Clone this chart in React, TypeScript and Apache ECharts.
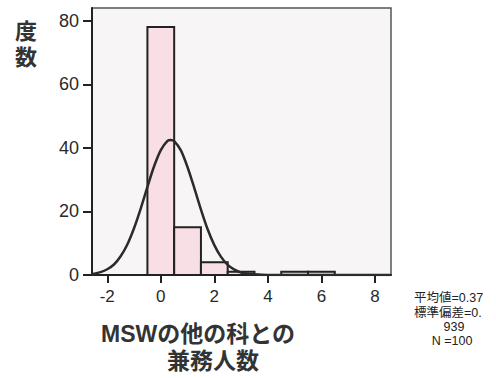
import React, { useEffect, useRef } from "react";
import * as echarts from "echarts";

const binStarts = [-0.5, 0.5, 1.5, 2.5, 3.5, 4.5, 5.5];
const binEnds = [0.5, 1.5, 2.5, 3.5, 4.5, 5.5, 6.5];
const binCounts = [78, 15, 4, 1, 0, 1, 1];

const curveX = [-2.57, -2.5, -2.25, -2, -1.75, -1.5, -1.25, -1, -0.75, -0.5, -0.25, 0, 0.25, 0.37, 0.5, 0.75, 1, 1.25, 1.5, 1.75, 2, 2.25, 2.5, 2.75, 3, 3.25, 3.5, 4, 4.5, 5, 6, 7, 8, 8.6];
const curveY = [0.3, 0.4, 0.9, 1.8, 3.3, 5.9, 9.6, 14.7, 20.9, 27.7, 34.2, 39.3, 42.2, 42.5, 42.1, 39.2, 33.9, 27.4, 20.6, 14.4, 9.4, 5.7, 3.2, 1.7, 0.8, 0.4, 0.2, 0.02, 0, 0, 0, 0, 0, 0];

const xTicks = [-2, 0, 2, 4, 6, 8];
const yTicks = [0, 20, 40, 60, 80];

const yTitleChars = ["度", "数"];
const xTitleLine1 = "MSWの他の科との";
const xTitleLine2 = "兼務人数";
const statLines = ["平均値=0.37", "標準偏差=0.", "939", "N =100"];

export default function App() {
  const ref = useRef<HTMLDivElement>(null);
  useEffect(() => {
    document.body.style.margin = "0";
    if (!ref.current) return;
    const chart = echarts.init(ref.current, undefined, { renderer: "svg" });
    const textColor = "#2a2a2a";
    const mixed = "'Liberation Sans', 'Noto Sans CJK JP', sans-serif";
    const num = "'Liberation Sans', Arial, sans-serif";
    const statStyle = (text: string, align: string) => ({
      text,
      font: `12.5px ${mixed}`,
      fill: "#222",
      align,
      verticalAlign: "middle",
      lineHeight: 12,
    });
    const titleStyle = (text: string) => ({
      text,
      font: `bold 23px ${mixed}`,
      fill: "#333",
      align: "center",
      verticalAlign: "middle",
      lineHeight: 23,
    });
    chart.setOption({
      animation: false,
      backgroundColor: "#ffffff",
      grid: {
        left: 92,
        right: 105,
        top: 8,
        bottom: 103,
        show: true,
        backgroundColor: "#f7f5f5",
        borderColor: "#555",
        borderWidth: 1.5,
      },
      xAxis: {
        type: "value",
        min: -2.57,
        max: 8.6,
        splitLine: { show: false },
        axisLine: { show: true, onZero: false, lineStyle: { color: "#222", width: 2 } },
        axisTick: {
          show: true,
          length: 8,
          inside: false,
          customValues: xTicks,
          lineStyle: { color: "#222", width: 2 },
        },
        axisLabel: {
          customValues: xTicks,
          color: textColor,
          fontSize: 17,
          margin: 13,
          fontFamily: num,
        },
      },
      yAxis: {
        type: "value",
        min: 0,
        max: 84,
        splitLine: { show: false },
        axisLine: { show: true, onZero: false, lineStyle: { color: "#222", width: 2 } },
        axisTick: {
          show: true,
          length: 9,
          customValues: yTicks,
          lineStyle: { color: "#222", width: 2 },
        },
        axisLabel: {
          customValues: yTicks,
          color: textColor,
          fontSize: 18,
          margin: 13,
          fontFamily: num,
        },
      },
      series: [
        {
          type: "custom",
          data: binStarts.map((s, i) => [s, binEnds[i], binCounts[i]]),
          encode: { x: [0, 1], y: 2 },
          z: 2,
          renderItem: (params: any, api: any) => {
            const count = api.value(2);
            if (!count) return null;
            const p0 = api.coord([api.value(0), 0]);
            const p1 = api.coord([api.value(1), count]);
            return {
              type: "rect",
              shape: { x: p0[0], y: p1[1], width: p1[0] - p0[0], height: p0[1] - p1[1] },
              style: { fill: "#f8dee5", stroke: "#222", lineWidth: 2 },
            };
          },
        },
        {
          type: "line",
          data: curveX.map((x, i) => [x, curveY[i]]),
          smooth: 0.3,
          showSymbol: false,
          z: 3,
          lineStyle: { color: "#2b2b2b", width: 2.5 },
        },
      ],
      graphic: [
        {
          type: "text",
          x: 26,
          y: 31,
          style: {
            text: yTitleChars[0],
            font: `bold 22px ${mixed}`,
            fill: "#333",
            align: "center",
            verticalAlign: "middle",
            lineHeight: 22,
          },
        },
        {
          type: "text",
          x: 26,
          y: 57,
          style: {
            text: yTitleChars[1],
            font: `bold 22px ${mixed}`,
            fill: "#333",
            align: "center",
            verticalAlign: "middle",
            lineHeight: 22,
          },
        },
        { type: "text", x: 198, y: 334, style: titleStyle(xTitleLine1) },
        { type: "text", x: 213, y: 361, style: titleStyle(xTitleLine2) },
        { type: "text", x: 414, y: 298, style: statStyle(statLines[0], "left") },
        { type: "text", x: 414, y: 313, style: statStyle(statLines[1], "left") },
        { type: "text", x: 454, y: 327, style: statStyle(statLines[2], "center") },
        { type: "text", x: 452, y: 341, style: statStyle(statLines[3], "center") },
      ],
    });
    return () => chart.dispose();
  }, []);
  return <div ref={ref} style={{ width: 496, height: 378 }} />;
}
